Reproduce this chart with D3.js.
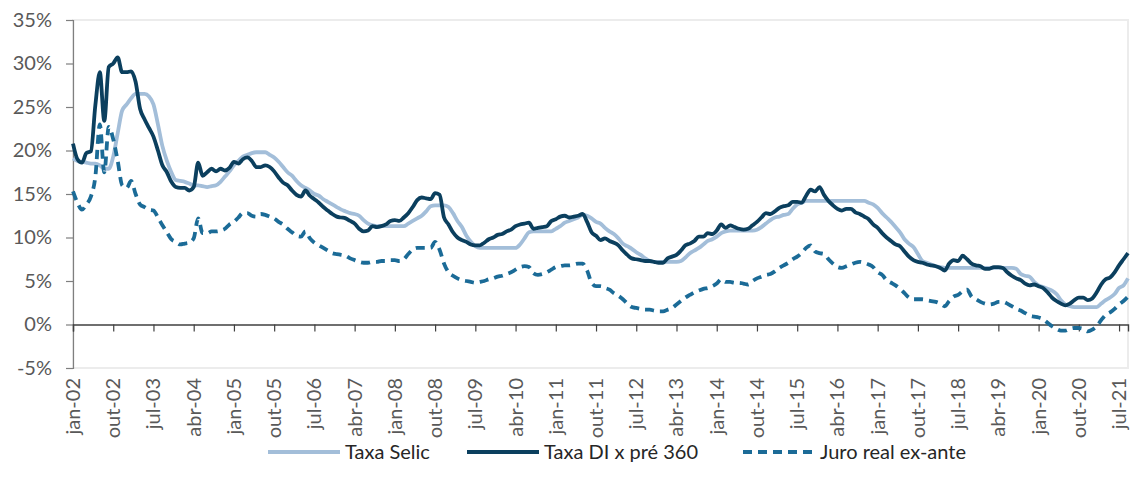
<!DOCTYPE html>
<html>
<head>
<meta charset="utf-8">
<script src="https://cdn.jsdelivr.net/npm/d3@7"></script>
<style>
	body { margin: 0; background: #fff; }
	svg text { font-family: Lato, "Liberation Sans", sans-serif; fill: #595959; }
</style>
</head>
<body>
<div id="chart"></div>
<script>

// monthly series, jan-02 .. set-21 (%)
const selic = [
	19.1, 18.8, 18.7, 18.6, 18.5, 18.5, 18.3, 17.9, 17.9, 19.3, 22.0, 24.6,
	25.3, 26.0, 26.5, 26.5, 26.5, 26.2, 25.3, 23.0, 20.5, 18.8, 17.5, 16.6,
	16.5, 16.4, 16.2, 16.0, 16.0, 15.9, 15.8, 15.9, 16.0, 16.4, 17.0, 17.6,
	18.3, 18.8, 19.3, 19.5, 19.7, 19.8, 19.8, 19.8, 19.5, 19.2, 18.7, 18.1,
	17.5, 17.1, 16.5, 16.0, 15.7, 15.4, 15.0, 14.8, 14.4, 14.1, 13.8, 13.5,
	13.2, 13.0, 12.8, 12.7, 12.5, 12.0, 11.6, 11.4, 11.3, 11.3, 11.3, 11.3,
	11.3, 11.3, 11.3, 11.6, 11.9, 12.2, 12.5, 13.0, 13.6, 13.7, 13.7, 13.7,
	13.5, 12.8, 11.9, 11.2, 10.2, 9.5, 9.0, 8.8, 8.8, 8.8, 8.8, 8.8,
	8.8, 8.8, 8.8, 8.8, 9.2, 9.9, 10.6, 10.7, 10.7, 10.7, 10.7, 10.7,
	11.0, 11.3, 11.7, 11.9, 12.1, 12.3, 12.6, 12.5, 12.2, 11.8, 11.6, 11.1,
	10.7, 10.4, 9.9, 9.3, 9.0, 8.7, 8.3, 8.0, 7.6, 7.3, 7.2, 7.2,
	7.2, 7.2, 7.2, 7.2, 7.3, 7.7, 8.2, 8.5, 8.8, 9.2, 9.6, 9.8,
	10.1, 10.5, 10.7, 10.8, 10.8, 10.8, 10.8, 10.8, 10.8, 10.9, 11.2, 11.6,
	12.0, 12.3, 12.4, 12.6, 12.7, 13.3, 13.8, 14.0, 14.2, 14.2, 14.2, 14.2,
	14.2, 14.2, 14.2, 14.2, 14.2, 14.2, 14.2, 14.2, 14.2, 14.2, 14.0, 13.8,
	13.4, 12.8, 12.3, 11.8, 11.2, 10.6, 9.8, 9.3, 8.9, 8.1, 7.3, 7.1,
	6.9, 6.7, 6.6, 6.5, 6.5, 6.5, 6.5, 6.5, 6.5, 6.5, 6.5, 6.5,
	6.5, 6.5, 6.5, 6.5, 6.5, 6.5, 6.5, 6.4, 5.8, 5.6, 5.5, 4.9,
	4.5, 4.3, 4.1, 3.9, 3.5, 2.8, 2.3, 2.1, 2.0, 2.0, 2.0, 2.0,
	2.0, 2.0, 2.4, 2.8, 3.1, 3.5, 4.2, 4.5, 5.3
];

const diPre360 = [
	20.8, 19.0, 18.6, 19.7, 19.9, 25.2, 29.0, 23.4, 29.6, 30.0, 30.7, 29.0,
	29.0, 29.1, 27.9, 24.8, 23.6, 22.6, 21.6, 20.0, 18.3, 17.5, 16.4, 15.8,
	15.7, 15.7, 15.4, 15.8, 18.6, 17.1, 17.5, 17.9, 17.6, 17.9, 17.7, 18.0,
	18.7, 18.5, 19.0, 19.2, 18.8, 18.1, 18.1, 18.3, 18.1, 17.6, 16.9, 16.3,
	16.0, 15.4, 14.9, 14.7, 15.4, 14.8, 14.4, 14.0, 13.5, 13.1, 12.7, 12.4,
	12.3, 12.2, 11.9, 11.6, 11.0, 10.7, 10.8, 11.3, 11.2, 11.3, 11.5, 11.9,
	12.0, 11.9, 12.3, 12.8, 13.5, 14.3, 14.6, 14.5, 14.4, 15.1, 14.9, 12.3,
	11.5, 10.6, 10.0, 9.7, 9.5, 9.2, 9.1, 9.1, 9.4, 9.8, 10.0, 10.3,
	10.4, 10.7, 10.9, 11.3, 11.5, 11.6, 11.7, 11.0, 11.1, 11.2, 11.3, 11.9,
	12.1, 12.4, 12.5, 12.3, 12.4, 12.5, 12.7, 11.8, 10.6, 10.2, 9.7, 9.9,
	9.6, 9.4, 9.1, 8.5, 8.0, 7.6, 7.5, 7.4, 7.3, 7.3, 7.2, 7.1,
	7.1, 7.6, 7.8, 8.0, 8.5, 9.1, 9.3, 9.6, 10.1, 10.1, 10.5, 10.4,
	10.8, 11.5, 11.1, 11.4, 11.2, 11.0, 10.9, 11.0, 11.4, 11.8, 12.3, 12.8,
	12.7, 13.0, 13.4, 13.6, 13.7, 14.1, 14.1, 14.0, 14.8, 15.5, 15.3, 15.8,
	14.9, 14.2, 13.7, 13.3, 13.1, 13.3, 13.3, 12.9, 12.7, 12.4, 12.1, 11.5,
	11.1, 10.5, 10.0, 9.6, 9.2, 9.0, 8.4, 7.8, 7.4, 7.2, 7.1, 6.9,
	6.8, 6.7, 6.5, 6.2, 7.0, 7.4, 7.3, 7.9, 7.5, 7.0, 6.8, 6.7,
	6.4, 6.4, 6.6, 6.6, 6.5, 6.0, 5.6, 5.3, 5.1, 4.7, 4.5, 4.6,
	4.4, 4.2, 3.7, 3.1, 2.7, 2.4, 2.2, 2.4, 2.8, 3.1, 3.1, 2.8,
	3.0, 3.7, 4.6, 5.2, 5.4, 6.0, 6.8, 7.5, 8.2
];

const juroReal = [
	15.3, 14.0, 13.2, 13.8, 14.7, 17.0, 23.0, 17.5, 22.7, 21.3, 18.8, 16.0,
	15.7, 16.5, 15.0, 13.8, 13.5, 13.2, 13.1, 12.3, 11.4, 10.6, 9.8, 9.5,
	9.2, 9.3, 9.4, 9.9, 12.2, 10.5, 10.5, 10.7, 10.7, 10.8, 11.0, 11.5,
	11.8, 12.3, 12.8, 12.8, 12.5, 12.4, 12.7, 12.6, 12.4, 12.2, 11.8, 11.5,
	11.0, 10.6, 10.2, 10.1, 10.7, 9.9, 9.4, 9.1, 8.8, 8.5, 8.2, 8.1,
	8.0, 7.9, 7.6, 7.4, 7.2, 7.1, 7.1, 7.2, 7.2, 7.3, 7.3, 7.4,
	7.4, 7.3, 7.5, 8.1, 8.6, 8.8, 8.8, 8.8, 8.8, 9.5, 8.6, 7.0,
	6.0, 5.6, 5.3, 5.1, 5.0, 4.9, 4.8, 4.9, 5.0, 5.2, 5.3, 5.5,
	5.6, 5.8, 6.0, 6.3, 6.6, 6.7, 6.6, 5.9, 5.7, 5.8, 6.0, 6.3,
	6.6, 6.7, 6.8, 6.8, 6.9, 7.0, 7.0, 6.2, 4.8, 4.4, 4.4, 4.2,
	4.0, 3.6, 3.3, 2.9, 2.4, 2.0, 1.9, 1.8, 1.7, 1.7, 1.6, 1.5,
	1.5, 1.7, 1.9, 2.3, 2.7, 3.1, 3.4, 3.7, 3.9, 4.1, 4.2, 4.4,
	4.7, 5.2, 4.9, 4.9, 4.8, 4.8, 4.7, 4.6, 5.0, 5.3, 5.5, 5.7,
	5.8, 6.1, 6.5, 6.8, 7.1, 7.5, 7.8, 8.2, 8.8, 9.1, 8.4, 8.2,
	8.1, 7.5, 7.0, 6.6, 6.5, 6.7, 6.9, 7.1, 7.2, 7.1, 6.9, 6.6,
	6.0, 5.7, 5.1, 4.8, 4.5, 4.1, 3.6, 3.1, 2.9, 2.9, 2.9, 2.8,
	2.7, 2.6, 2.4, 2.1, 2.7, 3.2, 3.4, 3.8, 4.0, 3.2, 2.9, 2.6,
	2.4, 2.3, 2.4, 2.6, 2.6, 2.4, 2.1, 1.8, 1.6, 1.3, 1.0, 0.9,
	0.8, 0.6, 0.2, -0.2, -0.5, -0.7, -0.7, -0.5, -0.4, -0.4, -0.5, -0.8,
	-0.6, -0.2, 0.5, 1.1, 1.4, 1.8, 2.3, 2.7, 3.2
];

// one label every 9 months starting jan-02
const tickLabels = ["jan-02", "out-02", "jul-03", "abr-04", "jan-05", "out-05", "jul-06", "abr-07",
	"jan-08", "out-08", "jul-09", "abr-10", "jan-11", "out-11", "jul-12", "abr-13", "jan-14",
	"out-14", "jul-15", "abr-16", "jan-17", "out-17", "jul-18", "abr-19", "jan-20", "out-20", "jul-21"];
const yTicks = [-5, 0, 5, 10, 15, 20, 25, 30, 35];

const seriesNames = ["Taxa Selic", "Taxa DI x pré 360", "Juro real ex-ante"];
const seriesData = [selic, diPre360, juroReal];
const seriesColors = ["#a3bed9", "#0b3f5e", "#1b6b97"];
const seriesDash = [null, null, "9,6"];

const width = 1136, height = 490;
const margin = { top: 20, right: 8, bottom: 122, left: 73 };
const innerW = width - margin.left - margin.right;
const innerH = height - margin.top - margin.bottom;

const svg = d3.select('#chart').append('svg')
	.attr('width', width)
	.attr('height', height);

const chart = svg.append('g')
	.attr('transform', `translate(${margin.left}, ${margin.top})`);

const xScale = d3.scaleLinear()
	.domain([0, selic.length - 1])
	.range([0, innerW]);

const yScale = d3.scaleLinear()
	.domain([-5, 35])
	.range([innerH, 0]);

// plot area frame (light)
chart.append('rect')
	.attr('x', 0).attr('y', 0)
	.attr('width', innerW).attr('height', innerH)
	.attr('fill', 'none')
	.attr('stroke', '#ececec')
	.attr('stroke-width', 2);

// y axis
const yAxis = d3.axisLeft(yScale)
	.tickValues(yTicks)
	.tickSize(7)
	.tickPadding(14)
	.tickFormat(d => d + '%');

const yAxisGroup = chart.append('g')
	.attr('class', 'axis y-axis')
	.call(yAxis);
yAxisGroup.select('.domain').attr('stroke', '#7f7f7f').attr('stroke-width', 1.2);
yAxisGroup.selectAll('.tick line').attr('stroke', '#7f7f7f').attr('stroke-width', 1.2);
yAxisGroup.selectAll('.tick text').style('font-size', '20px').style('fill', '#595959');

// x axis sits at 0%
const xAxis = d3.axisBottom(xScale)
	.tickValues(tickLabels.map((d, i) => i * 9))
	.tickSize(7)
	.tickFormat((d, i) => tickLabels[i]);

const xAxisGroup = chart.append('g')
	.attr('class', 'axis x-axis')
	.attr('transform', `translate(0, ${yScale(0)})`)
	.call(xAxis);
xAxisGroup.select('.domain').attr('stroke', '#404040').attr('stroke-width', 1.4);
xAxisGroup.selectAll('.tick line').attr('stroke', '#404040').attr('stroke-width', 1.2);
xAxisGroup.selectAll('.tick text').remove();

// labels below the plot area, rotated
const labelY = innerH + 10;
chart.append('g')
	.selectAll('text')
	.data(tickLabels)
	.join('text')
	.attr('transform', (d, i) => `translate(${xScale(i * 9)}, ${labelY}) rotate(-90)`)
	.attr('text-anchor', 'end')
	.attr('dy', '0.35em')
	.style('font-size', '20px')
	.text(d => d);

// lines
const line = d3.line()
	.x((d, i) => xScale(i))
	.y(d => yScale(d))
	.curve(d3.curveMonotoneX);

chart.selectAll('.series')
	.data(seriesData)
	.join('path')
	.attr('class', 'series')
	.attr('fill', 'none')
	.attr('stroke', (d, i) => seriesColors[i])
	.attr('stroke-width', 3.8)
	.attr('stroke-linejoin', 'round')
	.attr('stroke-dasharray', (d, i) => seriesDash[i])
	.attr('d', line);

// legend
const legendX = [268, 467, 743];
const legend = svg.append('g')
	.attr('transform', `translate(0, 452)`);

const items = legend.selectAll('g')
	.data(seriesNames)
	.join('g')
	.attr('transform', (d, i) => `translate(${legendX[i]}, 0)`);

items.append('line')
	.attr('x1', 0).attr('x2', 72)
	.attr('stroke', (d, i) => seriesColors[i])
	.attr('stroke-width', 3.8)
	.attr('stroke-dasharray', (d, i) => seriesDash[i]);

items.append('text')
	.attr('x', 77)
	.attr('dy', '0.35em')
	.style('font-size', '20px')
	.style('fill', '#262626')
	.text(d => d);

</script>
</body>
</html>
